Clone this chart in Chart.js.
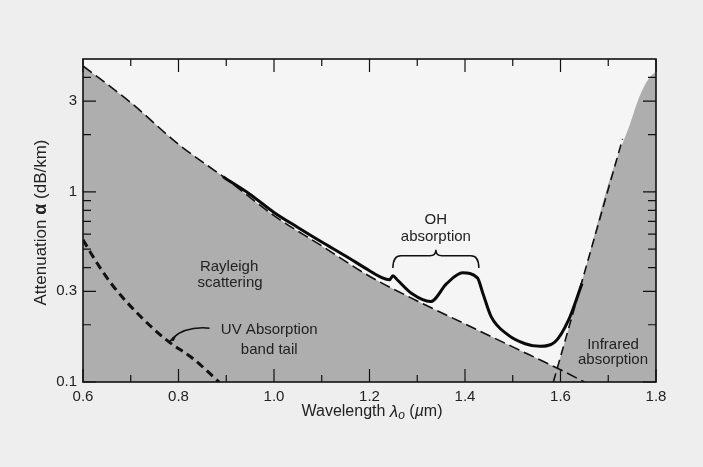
<!DOCTYPE html>
<html>
<head>
<meta charset="utf-8">
<script src="https://cdn.jsdelivr.net/npm/chart.js@4.4.1/dist/chart.umd.min.js"></script>
<style>
  html, body { margin: 0; padding: 0; background: #eeeeee; }
  #wrap { width: 703px; height: 467px; }
</style>
</head>
<body>
<div id="wrap"><canvas id="attChart" width="703" height="467"></canvas></div>
<script>
// tick values
const xTickLabels = [0.6, 0.8, 1.0, 1.2, 1.4, 1.6, 1.8];
const xMinorTicks = [0.7, 0.9, 1.1, 1.3, 1.5, 1.7];
const yTickLabels = [0.1, 0.3, 1, 3];
const yMinorTicks = [0.2, 0.4, 0.5, 0.6, 0.7, 0.8, 0.9, 2, 4];

// Rayleigh scattering (dashed line, grey below)
const rayleighX = [0.6, 0.7, 0.8, 0.9, 1.0, 1.1, 1.2, 1.3, 1.4, 1.5, 1.6, 1.65];
const rayleighY = [4.6, 2.95, 1.78, 1.17, 0.75, 0.52, 0.36, 0.267, 0.202, 0.153, 0.116, 0.1];

// measured attenuation (solid)
const measuredX = [0.893, 0.95, 1.0, 1.05, 1.1, 1.15, 1.2, 1.225, 1.242, 1.249, 1.258, 1.29, 1.328, 1.362, 1.395, 1.426, 1.437, 1.455, 1.49, 1.526, 1.557, 1.588, 1.617, 1.645];
const measuredY = [1.2, 0.97, 0.78, 0.65, 0.545, 0.46, 0.385, 0.355, 0.345, 0.362, 0.345, 0.29, 0.265, 0.33, 0.375, 0.353, 0.295, 0.22, 0.177, 0.159, 0.154, 0.162, 0.212, 0.33];

// UV absorption band tail
const uvX = [0.6, 0.63, 0.663, 0.719, 0.778, 0.83, 0.885];
const uvY = [0.56, 0.42, 0.32, 0.223, 0.164, 0.133, 0.1];

// infrared absorption: dashed asymptote and grey boundary
const irLineX = [1.585, 1.73];
const irLineY = [0.1, 1.9];
const irFillX = [1.585, 1.65, 1.70, 1.72, 1.745, 1.766, 1.785, 1.8];
const irFillY = [0.1, 0.375, 1.1, 1.55, 2.25, 3.2, 3.95, 4.3];

const pts = (xs, ys) => xs.map((x, i) => ({ x: x, y: ys[i] }));

const FILL = "#aeaeae";
const FONT = "'Liberation Sans', Arial, sans-serif";
const INK = "#222";

const decorPlugin = {
  id: "decor",
  beforeDatasetsDraw(chart) {
    const { ctx, chartArea: a } = chart;
    ctx.save();
    ctx.fillStyle = "#f5f5f5";
    ctx.fillRect(a.left, a.top, a.right - a.left, a.bottom - a.top);
    ctx.restore();
  },
  afterDraw(chart) {
    const { ctx, chartArea: a } = chart;
    const xs = chart.scales.x, ys = chart.scales.y;
    const px = (v) => xs.getPixelForValue(v);
    const py = (v) => ys.getPixelForValue(v);
    ctx.save();

    // frame
    ctx.strokeStyle = "#111";
    ctx.lineWidth = 1.6;
    ctx.strokeRect(a.left, a.top, a.right - a.left, a.bottom - a.top);

    // inward ticks on all four sides
    ctx.lineWidth = 1.2;
    ctx.beginPath();
    const xt = (v, len) => {
      const x = px(v);
      ctx.moveTo(x, a.bottom); ctx.lineTo(x, a.bottom - len);
      ctx.moveTo(x, a.top); ctx.lineTo(x, a.top + len);
    };
    const yt = (v, len) => {
      const y = py(v);
      ctx.moveTo(a.left, y); ctx.lineTo(a.left + len, y);
      ctx.moveTo(a.right, y); ctx.lineTo(a.right - len, y);
    };
    xTickLabels.forEach((v) => xt(v, 13));
    xMinorTicks.forEach((v) => xt(v, 7));
    yTickLabels.forEach((v) => yt(v, 13));
    yMinorTicks.forEach((v) => yt(v, 8));
    ctx.stroke();

    // annotations
    ctx.fillStyle = INK;
    ctx.textAlign = "center";
    ctx.textBaseline = "middle";
    ctx.font = "15px " + FONT;
    const label = (t, x, y) => ctx.fillText(t, px(x), py(y));
    label("Rayleigh", 0.906, 0.403);
    label("scattering", 0.908, 0.332);
    label("UV Absorption", 0.99, 0.188);
    label("band tail", 0.99, 0.148);
    label("OH", 1.339, 0.711);
    label("absorption", 1.339, 0.579);
    label("Infrared", 1.71, 0.157);
    label("absorption", 1.71, 0.131);

    // arrow to UV tail
    ctx.strokeStyle = "#111";
    ctx.lineWidth = 1.5;
    const ax0 = px(0.865), ay0 = py(0.192);
    const ax1 = px(0.778), ay1 = py(0.163);
    ctx.beginPath();
    ctx.moveTo(ax0, ay0);
    ctx.quadraticCurveTo(ax0 - 25, ay0 - 2, ax1 + 4, ay1 - 3);
    ctx.stroke();
    ctx.beginPath();
    ctx.moveTo(ax1, ay1);
    ctx.lineTo(ax1 + 9, ay1 - 8);
    ctx.lineTo(ax1 + 6, ay1 - 1);
    ctx.closePath();
    ctx.fillStyle = "#111";
    ctx.fill();

    // OH brace
    const bx0 = px(1.249), bx1 = px(1.429), bm = px(1.339);
    const bEnd = py(0.398), bBar = py(0.462);
    const bTop = bBar - 6;
    ctx.beginPath();
    ctx.moveTo(bx0, bEnd);
    ctx.quadraticCurveTo(bx0, bBar, bx0 + 8, bBar);
    ctx.lineTo(bm - 6, bBar);
    ctx.quadraticCurveTo(bm, bBar, bm, bTop);
    ctx.quadraticCurveTo(bm, bBar, bm + 6, bBar);
    ctx.lineTo(bx1 - 8, bBar);
    ctx.quadraticCurveTo(bx1, bBar, bx1, bEnd);
    ctx.stroke();

    // y-axis title: Attenuation α (dB/km)
    ctx.fillStyle = INK;
    ctx.save();
    ctx.translate(41, (a.top + a.bottom) / 2 + 2);
    ctx.rotate(-Math.PI / 2);
    const parts = [["Attenuation ", "17px "], ["α", "bold 18px "], [" (dB/km)", "17px "]];
    let total = 0;
    parts.forEach((p) => { ctx.font = p[1] + FONT; total += ctx.measureText(p[0]).width; });
    let cx = -total / 2;
    ctx.textAlign = "left";
    parts.forEach((p) => { ctx.font = p[1] + FONT; ctx.fillText(p[0], cx, 0); cx += ctx.measureText(p[0]).width; });
    ctx.restore();

    // x-axis title: Wavelength λo (µm)
    const xparts = [["Wavelength ", "16px ", 0], ["λ", "italic 17px ", 0], ["o", "italic 12px ", 4], [" (", "16px ", 0], ["µ", "italic 16px ", 0], ["m)", "16px ", 0]];
    let w = 0;
    xparts.forEach((p) => { ctx.font = p[1] + FONT; w += ctx.measureText(p[0]).width; });
    let tx = 372 - w / 2;
    ctx.textAlign = "left";
    xparts.forEach((p) => { ctx.font = p[1] + FONT; ctx.fillText(p[0], tx, 412 + p[2]); tx += ctx.measureText(p[0]).width; });

    ctx.restore();
  },
};

const ctx = document.getElementById("attChart").getContext("2d");
new Chart(ctx, {
  type: "line",
  data: {
    datasets: [
      {
        data: pts(irFillX, irFillY),
        borderWidth: 0,
        borderColor: "rgba(0,0,0,0)",
        backgroundColor: FILL,
        fill: "start",
        pointRadius: 0,
        cubicInterpolationMode: "monotone",
        order: 5,
      },
      {
        data: pts(rayleighX, rayleighY),
        borderColor: "#111",
        borderWidth: 1.6,
        borderDash: [11, 5],
        backgroundColor: FILL,
        fill: "start",
        pointRadius: 0,
        cubicInterpolationMode: "monotone",
        order: 4,
      },
      {
        data: pts(irLineX, irLineY),
        borderColor: "#111",
        borderWidth: 1.6,
        borderDash: [9, 5],
        fill: false,
        pointRadius: 0,
        order: 3,
      },
      {
        data: pts(uvX, uvY),
        borderColor: "#111",
        borderWidth: 3,
        borderDash: [8, 5],
        fill: false,
        pointRadius: 0,
        cubicInterpolationMode: "monotone",
        order: 2,
      },
      {
        data: pts(measuredX, measuredY),
        borderColor: "#0a0a0a",
        borderWidth: 3,
        fill: false,
        pointRadius: 0,
        cubicInterpolationMode: "monotone",
        order: 1,
      },
    ],
  },
  options: {
    responsive: false,
    animation: false,
    events: [],
    layout: { padding: { left: 0, right: 47, top: 59, bottom: 0 } },
    plugins: { legend: { display: false }, tooltip: { enabled: false } },
    scales: {
      x: {
        type: "linear",
        min: 0.6,
        max: 1.8,
        grid: { display: false },
        border: { display: false },
        afterBuildTicks: (s) => { s.ticks = xTickLabels.map((v) => ({ value: v })); },
        afterFit: (s) => { s.height = 85; },
        ticks: {
          padding: -2,
          color: INK,
          font: { family: FONT, size: 15 },
          callback: (v) => Number(v).toFixed(1),
        },
      },
      y: {
        type: "logarithmic",
        min: 0.1,
        max: 5,
        grid: { display: false },
        border: { display: false },
        afterBuildTicks: (s) => { s.ticks = yTickLabels.map((v) => ({ value: v })); },
        afterFit: (s) => { s.width = 83; },
        ticks: {
          padding: -2,
          color: INK,
          font: { family: FONT, size: 15 },
          callback: (v) => String(v),
        },
      },
    },
  },
  plugins: [decorPlugin],
});
</script>
</body>
</html>
